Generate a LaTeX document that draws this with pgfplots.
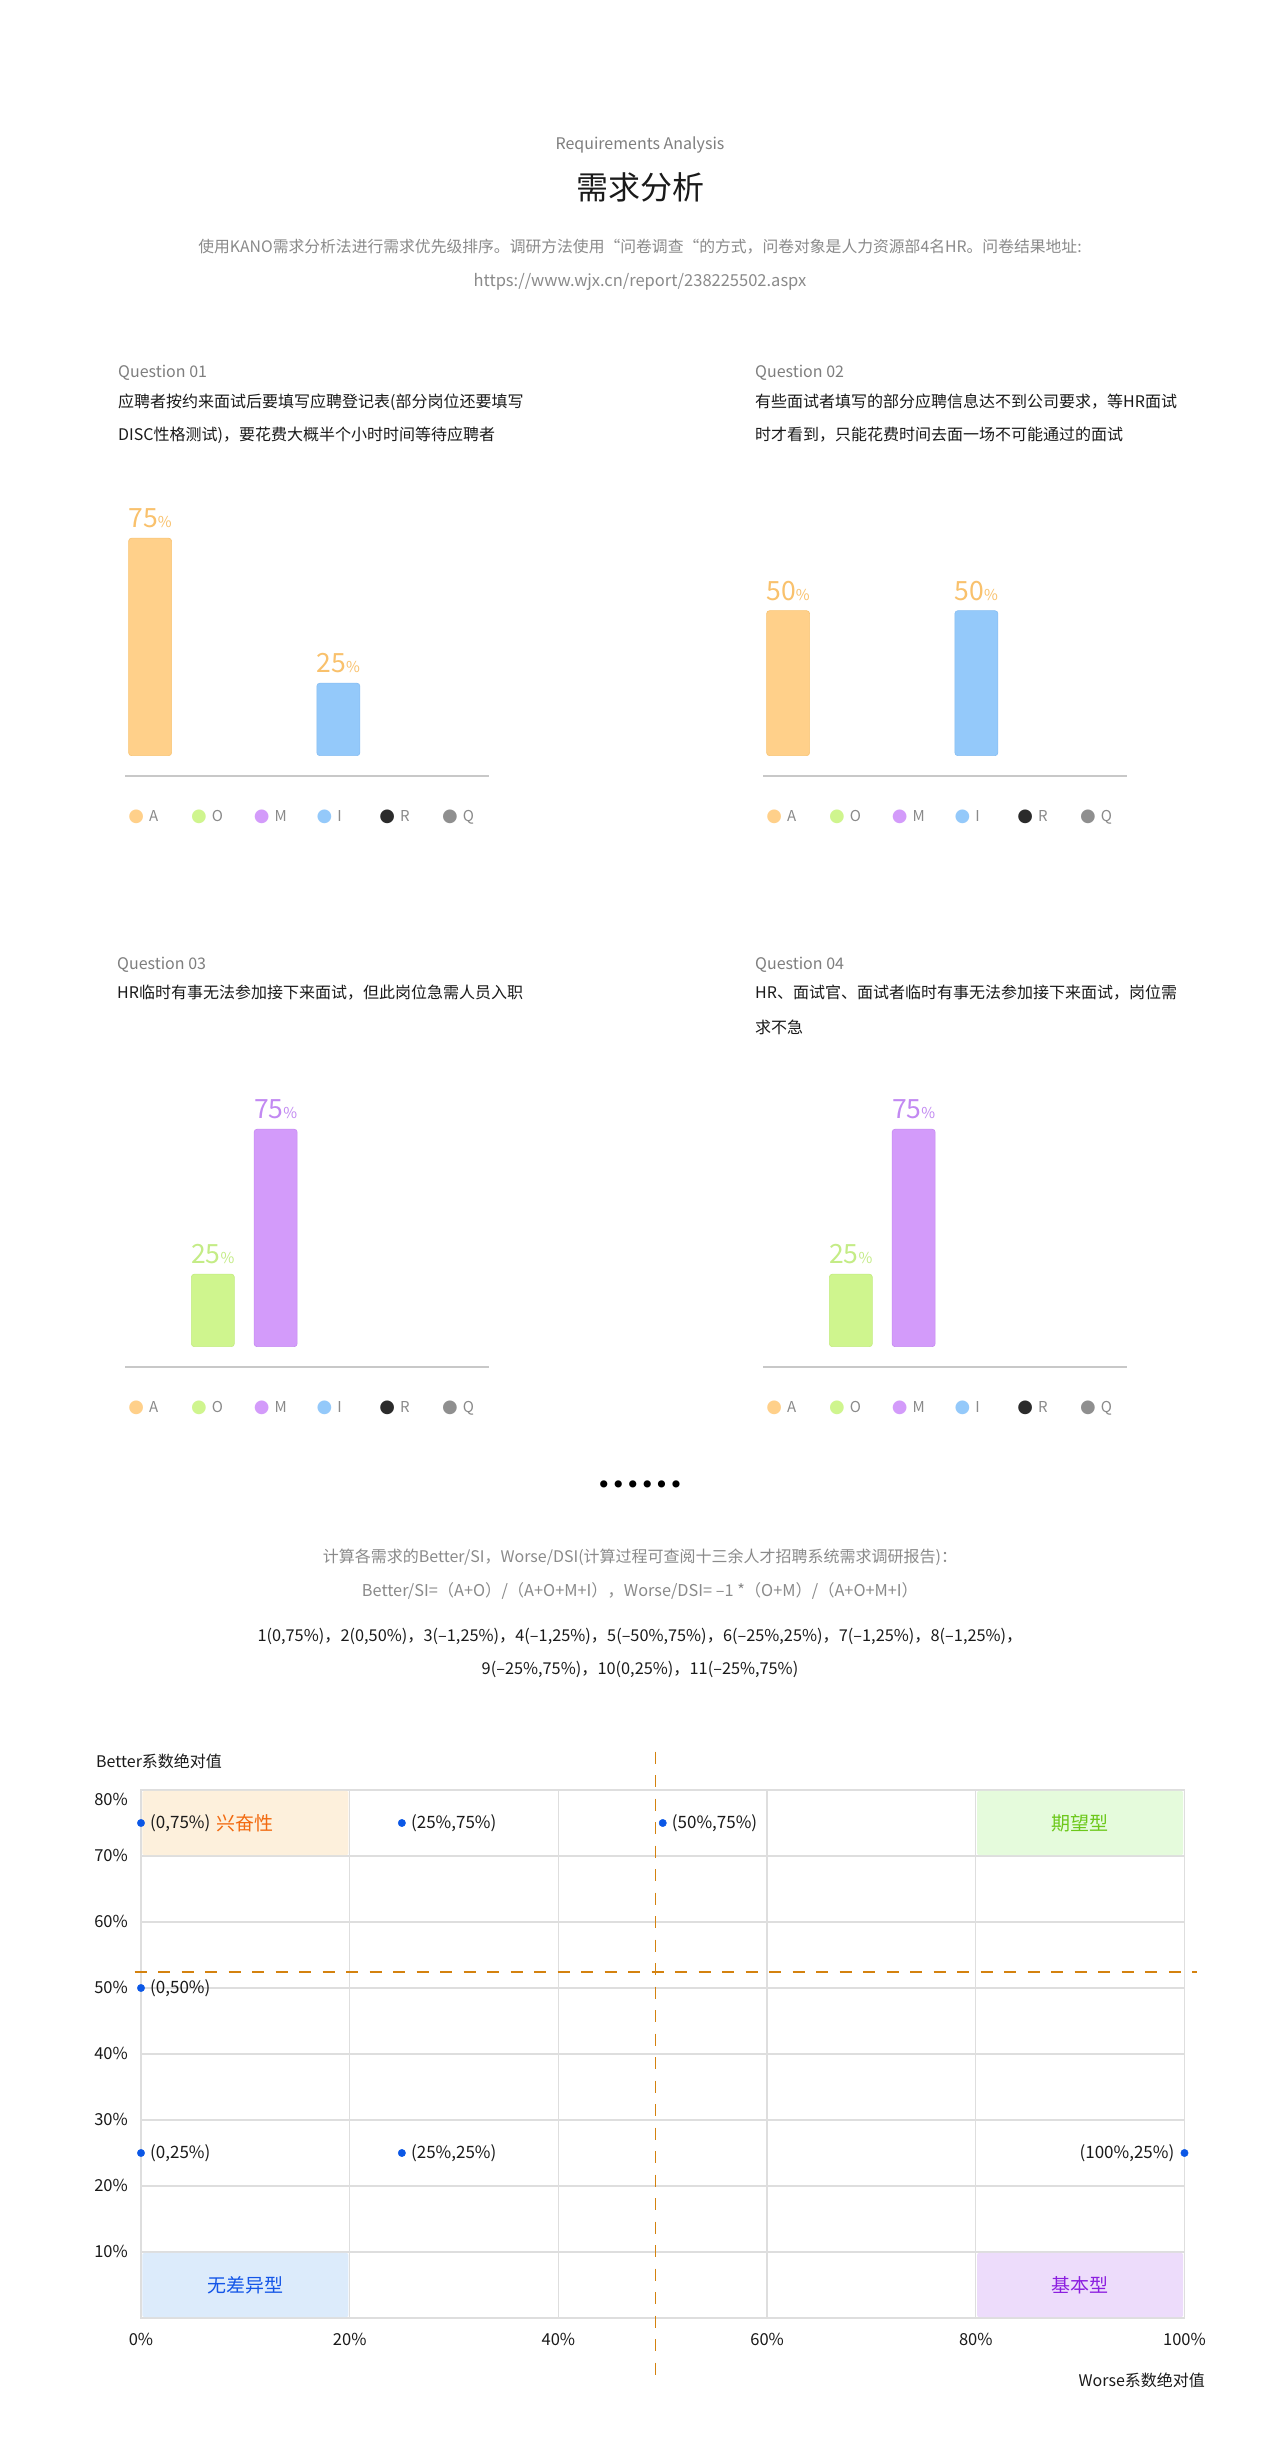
\documentclass[border=0pt]{standalone}
\usepackage{pgfplots}
\pgfplotsset{compat=1.18}
\usepackage{fontspec}
\setmainfont{Noto Sans CJK SC}
\newfontfamily\dejavu{DejaVu Sans}
\newcommand\fs[1]{\fontsize{#1}{#1}\selectfont}
% bar colours
\definecolor{cA}{HTML}{FFD08A}\definecolor{cAd}{HTML}{F8C372}
\definecolor{cO}{HTML}{CFF58E}\definecolor{cOd}{HTML}{C3EC80}
\definecolor{cM}{HTML}{D39BFA}\definecolor{cMd}{HTML}{C68AF2}
\definecolor{cI}{HTML}{94C9FA}\definecolor{cId}{HTML}{86BDF2}
\definecolor{cR}{HTML}{2B2B2B}\definecolor{cQ}{HTML}{8F8F8F}
\definecolor{labA}{HTML}{F9C16C}\definecolor{labO}{HTML}{C4EC86}\definecolor{labM}{HTML}{C289F2}
\definecolor{basec}{HTML}{C8C8C8}\definecolor{legc}{HTML}{8A8A8A}
\definecolor{txtgray}{HTML}{8A8A8A}\definecolor{qgray}{HTML}{7E7E7E}\definecolor{txtblack}{HTML}{1A1A1A}
% scatter colours
\definecolor{gridc}{HTML}{DEDEDE}\definecolor{dashc}{HTML}{D4820F}\definecolor{dotblue}{HTML}{0B57E6}
\definecolor{excbg}{HTML}{FDF0DC}\definecolor{exct}{HTML}{F26A10}
\definecolor{expbg}{HTML}{E5FBDC}\definecolor{expt}{HTML}{6CC81A}
\definecolor{indbg}{HTML}{DCEBFB}\definecolor{indt}{HTML}{1456E8}
\definecolor{basbg}{HTML}{EDDCFB}\definecolor{bast}{HTML}{8C1FE0}
\newcommand\ldot[1]{{\dejavu\fs{18}\textcolor{#1}{●}}\hspace{5pt}}
\pgfplotsset{
 kano/.style={
  scale only axis, width=364pt, height=310.3pt, anchor=south west,
  xmin=-0.4, xmax=5.4, ymin=-7, ymax=100,
  axis x line*=bottom, axis y line=none,
  x axis line style={draw=basec, line width=1.5pt, -},
  xtick={0,...,5}, ytick=\empty,
  xticklabels={\ldot{cA}A,\ldot{cO}O,\ldot{cM}M,\ldot{cI}I,\ldot{cR}R,\ldot{cQ}Q},
  major tick length=0pt,
  xticklabel style={anchor=base west, xshift=-22pt, yshift=-45.4pt, inner sep=0pt, font=\fs{15}, text=legc},
  bar width=43pt,
  nodes near coords={\pgfmathprintnumber[assume math mode=true]{\pgfplotspointmeta}{\fs{15}\%}},
  every node near coord/.append style={font=\fs{26.5}, anchor=south, yshift=10pt, inner sep=0pt, text=labA},
  clip=false,
 },
 bA/.style={ybar, fill=cA, draw=cAd, line width=0.6pt, rounded corners=3pt},
 bO/.style={ybar, fill=cO, draw=cOd, line width=0.6pt, rounded corners=3pt},
 bM/.style={ybar, fill=cM, draw=cMd, line width=0.6pt, rounded corners=3pt},
 bI/.style={ybar, fill=cI, draw=cId, line width=0.6pt, rounded corners=3pt},
}
\begin{document}
\begin{tikzpicture}
\fill[white] (0pt,0pt) rectangle (1280pt,2461pt);
% ---------- header ----------
\node[text=qgray, font=\fs{16}] at (640pt,2316pt) {Requirements Analysis};
\node[text=txtblack, font=\fs{32}] at (640pt,2274pt) {需求分析};
\node[text=txtgray, font=\fs{15.8}] at (640pt,2214.5pt) {使用KANO需求分析法进行需求优先级排序。调研方法使用“问卷调查“的方式，问卷对象是人力资源部4名HR。问卷结果地址:};
\node[text=txtgray, font=\fs{16.5}] at (640pt,2179pt) {https://www.wjx.cn/report/238225502.aspx};
% ---------- question texts ----------
\begin{scope}[every node/.style={anchor=west, inner sep=0pt}]
\node[text=qgray, font=\fs{16}] at (118pt,2088pt) {Question 01};
\node[text=txtblack, font=\fs{16}] at (118pt,2059pt) {应聘者按约来面试后要填写应聘登记表(部分岗位还要填写};
\node[text=txtblack, font=\fs{16}] at (118pt,2026pt) {DISC性格测试)，要花费大概半个小时时间等待应聘者};
\node[text=qgray, font=\fs{16}] at (755pt,2088pt) {Question 02};
\node[text=txtblack, font=\fs{16}] at (755pt,2059pt) {有些面试者填写的部分应聘信息达不到公司要求，等HR面试};
\node[text=txtblack, font=\fs{16}] at (755pt,2026pt) {时才看到，只能花费时间去面一场不可能通过的面试};
\node[text=qgray, font=\fs{16}] at (117pt,1496pt) {Question 03};
\node[text=txtblack, font=\fs{16}] at (117pt,1468pt) {HR临时有事无法参加接下来面试，但此岗位急需人员入职};
\node[text=qgray, font=\fs{16}] at (755pt,1496pt) {Question 04};
\node[text=txtblack, font=\fs{16}] at (755pt,1468pt) {HR、面试官、面试者临时有事无法参加接下来面试，岗位需};
\node[text=txtblack, font=\fs{16}] at (755pt,1434pt) {求不急};
\end{scope}
% ---------- Q1 ----------
\begin{axis}[kano, at={(125pt,1685pt)}]
\addplot[bA] coordinates {(0,75)};
\addplot[bI] coordinates {(3,25)};
\end{axis}
% ---------- Q2 ----------
\begin{axis}[kano, at={(763pt,1685pt)}]
\addplot[bA] coordinates {(0,50)};
\addplot[bI] coordinates {(3,50)};
\end{axis}
% ---------- Q3 ----------
\begin{axis}[kano, at={(125pt,1094pt)}]
\addplot[bO, every node near coord/.append style={text=labO}] coordinates {(1,25)};
\addplot[bM, every node near coord/.append style={text=labM}] coordinates {(2,75)};
\end{axis}
% ---------- Q4 ----------
\begin{axis}[kano, at={(763pt,1094pt)}]
\addplot[bO, every node near coord/.append style={text=labO}] coordinates {(1,25)};
\addplot[bM, every node near coord/.append style={text=labM}] coordinates {(2,75)};
\end{axis}
% ---------- separator and formulas ----------
\node[text=black] at (640pt,974pt) {\dejavu\fs{24.5}••••••};
\node[text=txtgray, font=\fs{16}] at (640pt,904pt) {计算各需求的Better/SI，Worse/DSI(计算过程可查阅十三余人才招聘系统需求调研报告)：};
\node[text=txtgray, font=\fs{16.3}] at (640pt,870pt) {Better/SI=（A+O）/（A+O+M+I），Worse/DSI= –1 *（O+M）/（A+O+M+I）};
\node[text=txtblack, font=\fs{16.3}] at (640pt,825pt) {1(0,75\%)，2(0,50\%)，3(–1,25\%)，4(–1,25\%)，5(–50\%,75\%)，6(–25\%,25\%)，7(–1,25\%)，8(–1,25\%)，};
\node[text=txtblack, font=\fs{16.3}] at (640pt,792pt) {9(–25\%,75\%)，10(0,25\%)，11(–25\%,75\%)};
% ---------- KANO scatter ----------
\begin{axis}[
  at={(141pt,143pt)}, anchor=south west, scale only axis, width=1043.5pt, height=528pt,
  xmin=0, xmax=100, ymin=0, ymax=80,
  xtick={0,20,...,100}, ytick={10,20,...,70},
  extra y ticks={80}, extra y tick labels={80\%},
  extra y tick style={yticklabel style={yshift=-10pt}},
  grid=major, major grid style={draw=gridc, line width=1.2pt},
  axis line style={draw=gridc, line width=1.2pt},
  major tick length=0pt,
  xticklabel={\pgfmathprintnumber[assume math mode=true]{\tick}\%},
  yticklabel={\pgfmathprintnumber[assume math mode=true]{\tick}\%},
  xticklabel style={anchor=base, yshift=-27.5pt, inner sep=0pt, font=\fs{16.5}, text=txtblack},
  yticklabel style={anchor=base east, xshift=-13pt, yshift=-5.8pt, inner sep=0pt, font=\fs{16.5}, text=txtblack},
  ylabel={Better系数绝对值},
  ylabel style={rotate=-90, at={(axis description cs:-0.0431,1.0549)}, anchor=west, inner sep=0pt, font=\fs{16}, text=txtblack},
  xlabel={Worse系数绝对值},
  xlabel style={at={(axis description cs:1.0197,-0.1174)}, anchor=east, inner sep=0pt, font=\fs{16}, text=txtblack},
  clip=false,
]
\fill[excbg, rounded corners=2pt] (axis cs:0.12,70.15) rectangle (axis cs:19.88,79.85);
\fill[expbg, rounded corners=2pt] (axis cs:80.12,70.15) rectangle (axis cs:99.88,79.85);
\fill[indbg, rounded corners=2pt] (axis cs:0.12,0.15) rectangle (axis cs:19.88,9.85);
\fill[basbg, rounded corners=2pt] (axis cs:80.12,0.15) rectangle (axis cs:99.88,9.85);
\node[text=exct, font=\fs{19}] at (axis cs:10,75) {兴奋性};
\node[text=expt, font=\fs{19}] at (axis cs:90,75) {期望型};
\node[text=indt, font=\fs{19}] at (axis cs:10,5) {无差异型};
\node[text=bast, font=\fs{19}] at (axis cs:90,5) {基本型};
\addplot[dashc, line width=1.5pt, dash pattern=on 12pt off 11.5pt] coordinates {(-0.6,52.4) (101.2,52.4)};
\addplot[dashc, line width=1.5pt, dash pattern=on 12pt off 11.5pt] coordinates {(49.3,85.8) (49.3,-9.1)};
\addplot[only marks, mark=*, mark size=3.7pt, color=dotblue,
  point meta=explicit symbolic, nodes near coords,
  every node near coord/.append style={anchor=west, xshift=9pt, inner sep=0pt, text=txtblack, font=\fs{17}}]
  table[meta=lab, row sep=\\] {
  x y lab \\
  0 75 {(0,75\%)} \\
  25 75 {(25\%,75\%)} \\
  50 75 {(50\%,75\%)} \\
  0 50 {(0,50\%)} \\
  0 25 {(0,25\%)} \\
  25 25 {(25\%,25\%)} \\
  };
\addplot[only marks, mark=*, mark size=3.7pt, color=dotblue,
  point meta=explicit symbolic, nodes near coords,
  every node near coord/.append style={anchor=east, xshift=-10pt, inner sep=0pt, text=txtblack, font=\fs{17}}]
  table[meta=lab, row sep=\\] {
  x y lab \\
  100 25 {(100\%,25\%)} \\
  };
\end{axis}
\end{tikzpicture}
\end{document}
